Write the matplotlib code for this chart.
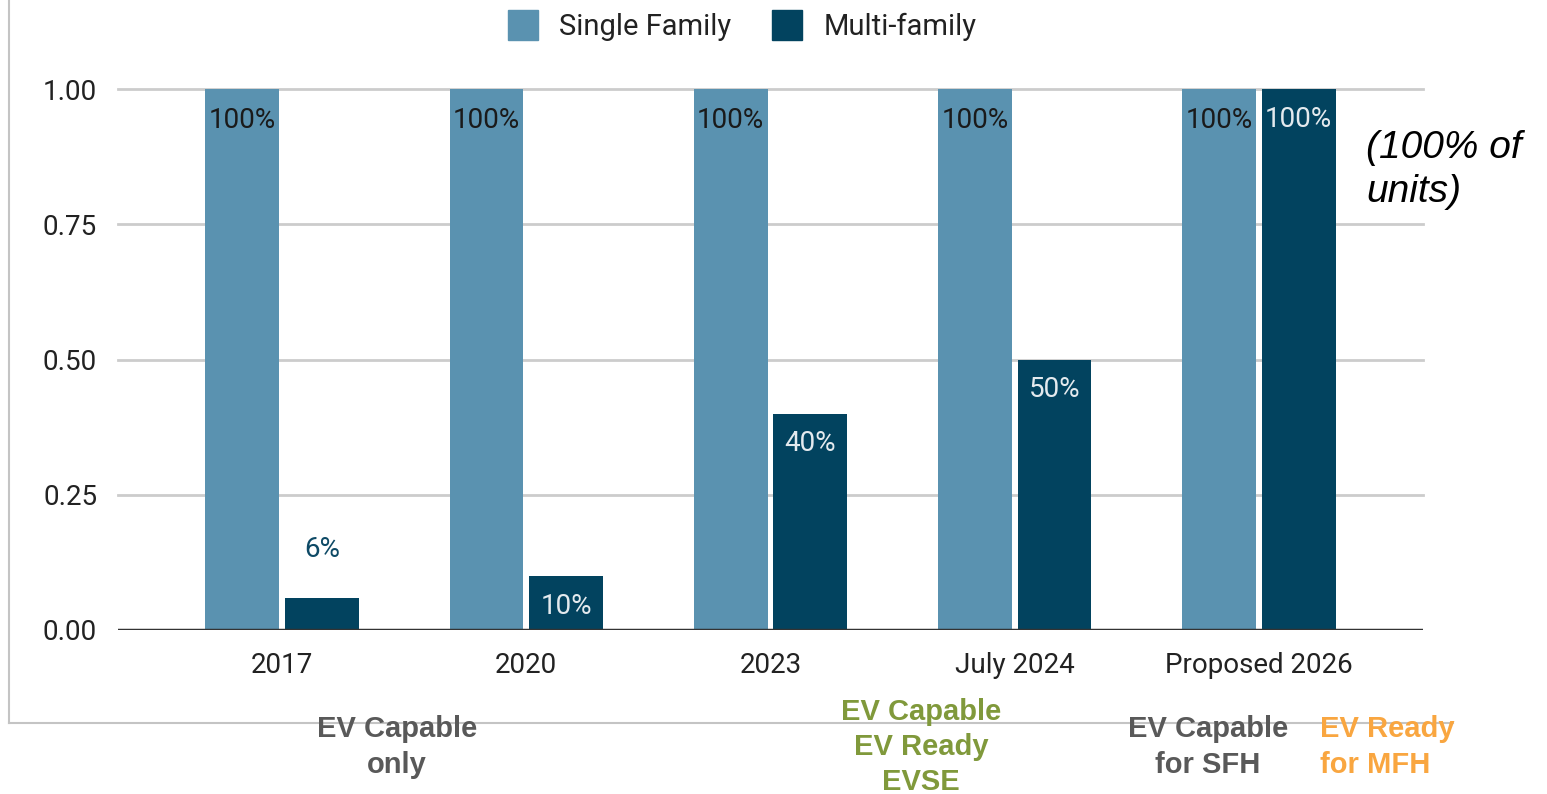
import matplotlib.pyplot as plt
from matplotlib.lines import Line2D
import numpy as np

years = ["2017", "2020", "2023", "July 2024", "Proposed 2026"]
single_family = [1.00, 1.00, 1.00, 1.00, 1.00]
multi_family = [0.06, 0.10, 0.40, 0.50, 1.00]
yticks = [0.00, 0.25, 0.50, 0.75, 1.00]

SF_COLOR = "#5a92b0"
MF_COLOR = "#02435f"

plt.rcParams['font.family'] = ['Roboto', 'DejaVu Sans']

fig = plt.figure(figsize=(15.47, 7.94), dpi=100)
ax = fig.add_axes([118 / 1547, 1 - 630 / 794, (1423 - 118) / 1547, (630 - 78.2) / 794])

x = np.arange(len(years))
w = 0.303
off = 0.163
b1 = ax.bar(x - off, single_family, w, color=SF_COLOR, zorder=3)
b2 = ax.bar(x + off, multi_family, w, color=MF_COLOR, zorder=3)

# value labels: inside the top of the bar, or above it when the bar is too short
for rect, v in zip(b1, single_family):
    ax.text(rect.get_x() + rect.get_width() / 2, v - 0.058, f"{v:.0%}",
            ha="center", va="center", fontsize=20, color="#1a1a1a", zorder=4)
for rect, v in zip(b2, multi_family):
    cx = rect.get_x() + rect.get_width() / 2
    if v < 0.08:
        ax.text(cx, v + 0.089, f"{v:.0%}", ha="center", va="center",
                fontsize=20, color="#0e4a66", zorder=4)
    else:
        ax.text(cx, v - 0.056, f"{v:.0%}", ha="center", va="center",
                fontsize=20, color="#e4eaee", zorder=4)

ax.set_xlim(-0.672, 4.672)
ax.set_ylim(0, 1.02)
ax.set_yticks(yticks)
ax.set_yticklabels([f"{t:.2f}" for t in yticks])
ax.set_xticks(x)
ax.set_xticklabels(years)
ax.tick_params(axis="both", length=0, labelsize=20, colors="#222222")
ax.tick_params(axis="y", pad=15)
ax.tick_params(axis="x", pad=16)
for s in ax.spines.values():
    s.set_visible(False)
for t in yticks[1:]:
    ax.axhline(t, color="#cccccc", lw=2, zorder=1, clip_on=False)
ax.axhline(0, color="#333333", lw=2.5, zorder=5)

handles = [Line2D([], [], marker="s", ls="", markersize=21, color=SF_COLOR),
           Line2D([], [], marker="s", ls="", markersize=21, color=MF_COLOR)]
fig.legend(handles, ["Single Family", "Multi-family"], loc="center",
           bbox_to_anchor=(735 / 1547, 1 - 27 / 794), ncol=2, frameon=False,
           fontsize=21, handletextpad=0.25, columnspacing=0.9,
           labelcolor="#222222")

fig.text(1366 / 1547, 1 - 170 / 794, "(100% of\nunits)", fontsize=28,
         style="italic", family="Liberation Sans", ha="left", va="center",
         linespacing=1.3, color="black")

# frame around the chart area
fig.add_artist(Line2D([9 / 1547, 9 / 1547], [1, 1 - 723 / 794],
                      color="#c4c4c4", lw=1.5, zorder=0))
fig.add_artist(Line2D([9 / 1547, 1453 / 1547], [1 - 723 / 794, 1 - 723 / 794],
                      color="#c4c4c4", lw=1.5, zorder=0))

# requirement notes below the chart
note_kw = dict(fontsize=21, fontweight="bold", family="Liberation Sans",
               va="center", linespacing=1.32, zorder=6)
fig.text(397 / 1547, 1 - 747 / 794, "EV Capable\nonly", ha="center",
         color="#595959", **note_kw)
fig.text(921 / 1547, 1 - 747 / 794, "EV Capable\nEV Ready\nEVSE", ha="center",
         color="#80993b", **note_kw)
fig.text(1208 / 1547, 1 - 747 / 794, "EV Capable\nfor SFH", ha="center",
         color="#595959", **note_kw)
fig.text(1320 / 1547, 1 - 747 / 794, "EV Ready\nfor MFH", ha="left",
         color="#f9a640", **note_kw)

fig.savefig("out.png", dpi=100)
